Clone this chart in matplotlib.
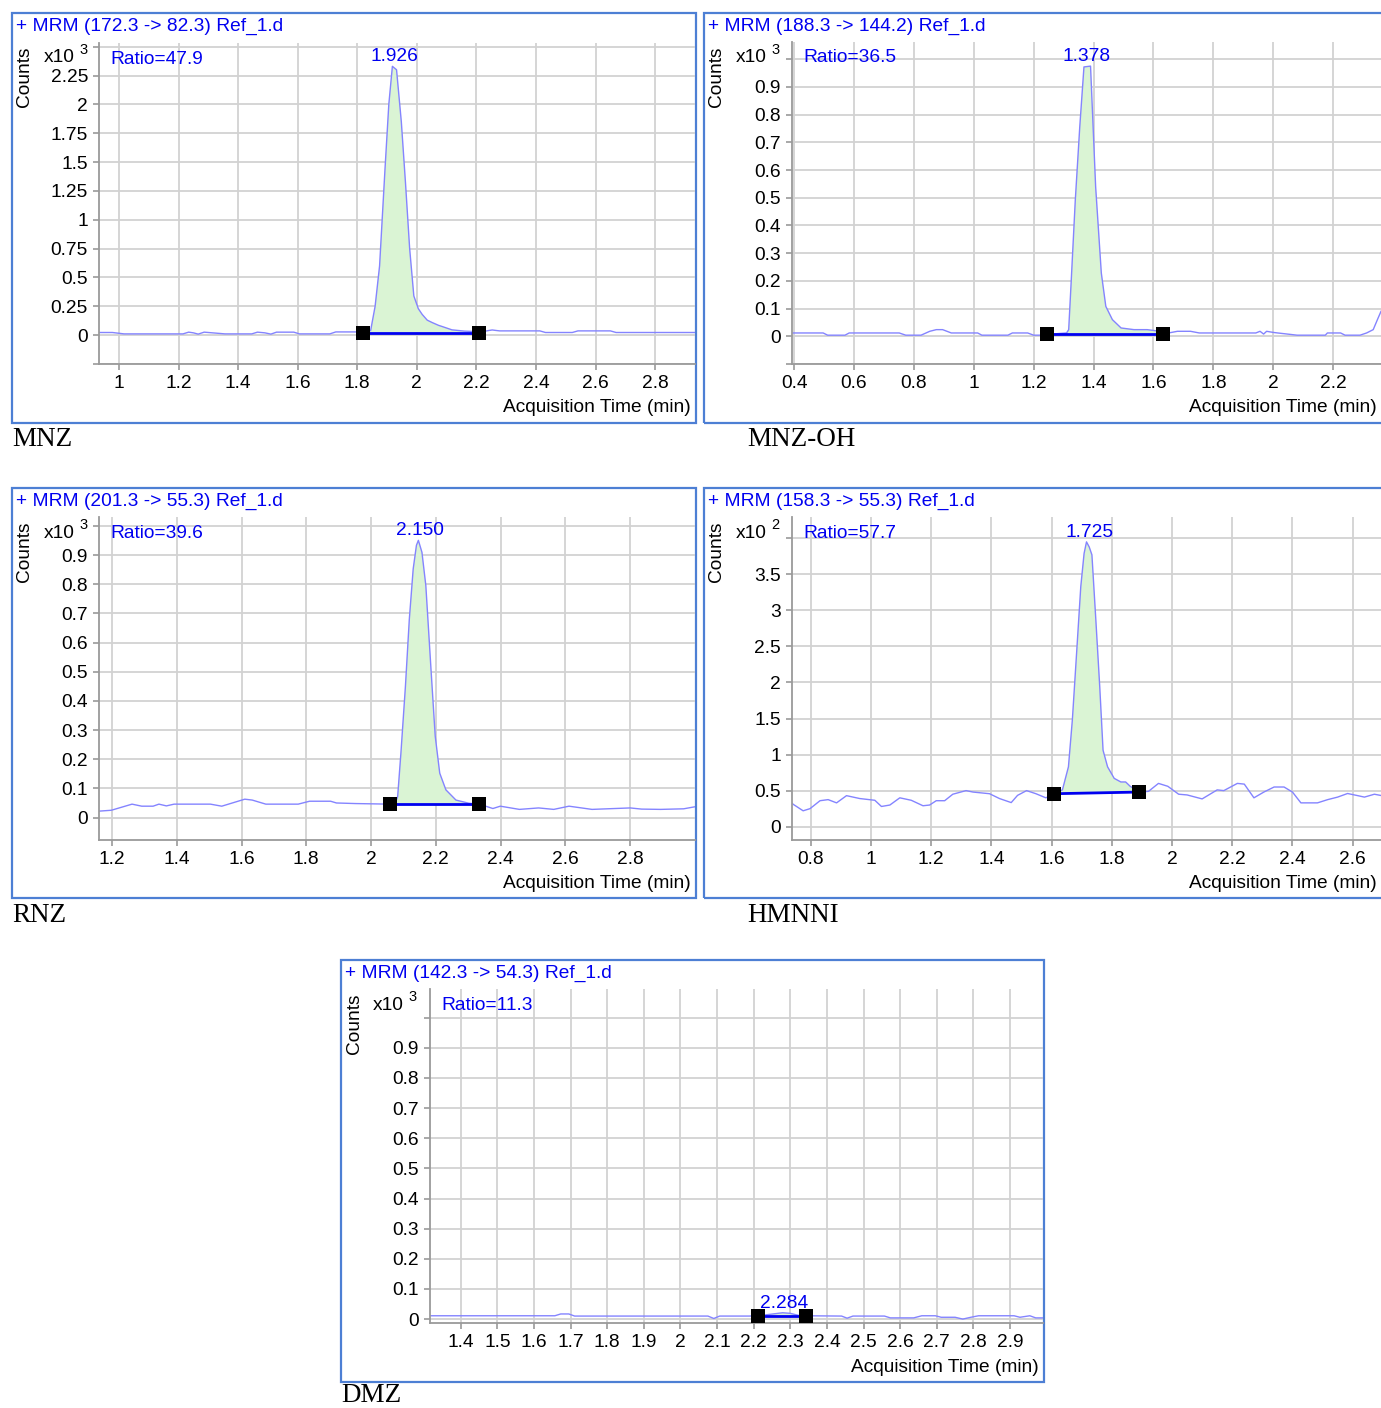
import numpy as np
import matplotlib.pyplot as plt
from matplotlib.patches import Rectangle

plt.rcParams['font.family'] = ['Liberation Sans', 'DejaVu Sans']

W, H = 1381, 1408

# compound names, MRM transitions, retention times and ion ratios
names = ['MNZ', 'MNZ-OH', 'RNZ', 'HMNNI', 'DMZ']
transitions = ['172.3 -> 82.3', '188.3 -> 144.2', '201.3 -> 55.3',
               '158.3 -> 55.3', '142.3 -> 54.3']
rts = [1.926, 1.378, 2.150, 1.725, 2.284]
ratios = [47.9, 36.5, 39.6, 57.7, 11.3]
exponents = [3, 3, 3, 2, 3]

# chromatograms: (time in min, counts in x10^exp)
mnz_trace = [
    (0.933, 0.023), (0.978, 0.023), (1.017, 0.011), (1.215, 0.011), (1.234, 0.026),
    (1.25, 0.02), (1.266, 0.009), (1.286, 0.026), (1.356, 0.011), (1.446, 0.011),
    (1.465, 0.026), (1.49, 0.02), (1.51, 0.009), (1.529, 0.026), (1.587, 0.026),
    (1.606, 0.011), (1.708, 0.011), (1.728, 0.028), (1.821, 0.028), (1.845, 0.04),
    (1.86, 0.25), (1.875, 0.6), (1.893, 1.43), (1.906, 2.0), (1.918, 2.33),
    (1.932, 2.30), (1.948, 1.85), (1.962, 1.32), (1.976, 0.75), (1.99, 0.34),
    (2.005, 0.23), (2.018, 0.18), (2.035, 0.13), (2.051, 0.11), (2.073, 0.085),
    (2.085, 0.075), (2.118, 0.046), (2.16, 0.035), (2.208, 0.03), (2.23, 0.035),
    (2.253, 0.045), (2.268, 0.04), (2.278, 0.037), (2.413, 0.037), (2.432, 0.023),
    (2.522, 0.023), (2.541, 0.037), (2.65, 0.037), (2.669, 0.023), (2.934, 0.023),
]
mnzoh_trace = [
    (0.39, 0.012), (0.497, 0.012), (0.512, 0.004), (0.57, 0.004), (0.584, 0.012),
    (0.751, 0.012), (0.773, 0.004), (0.824, 0.004), (0.853, 0.018), (0.875, 0.024),
    (0.896, 0.024), (0.925, 0.012), (1.013, 0.012), (1.027, 0.004), (1.114, 0.004),
    (1.129, 0.012), (1.18, 0.012), (1.2, 0.004), (1.245, 0.004), (1.26, 0.008),
    (1.31, 0.012), (1.317, 0.024), (1.325, 0.19), (1.339, 0.49), (1.354, 0.756),
    (1.368, 0.972), (1.39, 0.975), (1.407, 0.54), (1.426, 0.228), (1.441, 0.108),
    (1.463, 0.06), (1.492, 0.03), (1.535, 0.024), (1.579, 0.024), (1.622, 0.018),
    (1.651, 0.012), (1.68, 0.018), (1.724, 0.018), (1.753, 0.012), (1.942, 0.012),
    (1.956, 0.018), (1.968, 0.008), (1.978, 0.018), (2.0, 0.014), (2.015, 0.012),
    (2.08, 0.004), (2.174, 0.004), (2.181, 0.012), (2.225, 0.012), (2.24, 0.004),
    (2.29, 0.004), (2.312, 0.012), (2.334, 0.024), (2.348, 0.06), (2.36, 0.09),
]
rnz_trace = [
    (1.16, 0.022), (1.198, 0.025), (1.262, 0.046), (1.292, 0.039), (1.327, 0.039),
    (1.345, 0.046), (1.368, 0.04), (1.392, 0.046), (1.504, 0.046), (1.539, 0.039),
    (1.61, 0.063), (1.633, 0.06), (1.675, 0.046), (1.775, 0.046), (1.81, 0.056),
    (1.875, 0.056), (1.893, 0.05), (1.952, 0.048), (2.058, 0.046), (2.075, 0.05),
    (2.082, 0.072), (2.092, 0.22), (2.106, 0.45), (2.118, 0.68), (2.13, 0.853),
    (2.14, 0.934), (2.146, 0.951), (2.157, 0.91), (2.169, 0.796), (2.185, 0.508),
    (2.198, 0.279), (2.212, 0.152), (2.231, 0.095), (2.262, 0.06), (2.302, 0.049),
    (2.334, 0.046), (2.376, 0.031), (2.399, 0.039), (2.458, 0.028), (2.517, 0.033),
    (2.564, 0.028), (2.611, 0.039), (2.682, 0.028), (2.8, 0.033), (2.835, 0.029),
    (2.894, 0.028), (2.965, 0.03), (3.0, 0.037),
]
hmnni_trace = [
    (0.737, 0.33), (0.742, 0.31), (0.775, 0.22), (0.798, 0.25), (0.831, 0.36),
    (0.858, 0.375), (0.886, 0.33), (0.919, 0.43), (0.963, 0.39), (1.013, 0.366),
    (1.035, 0.28), (1.063, 0.30), (1.096, 0.40), (1.134, 0.366), (1.173, 0.29),
    (1.195, 0.30), (1.217, 0.36), (1.245, 0.36), (1.272, 0.45), (1.316, 0.50),
    (1.339, 0.48), (1.394, 0.457), (1.427, 0.39), (1.466, 0.334), (1.487, 0.434),
    (1.517, 0.50), (1.548, 0.457), (1.581, 0.40), (1.609, 0.457), (1.636, 0.51),
    (1.656, 0.83), (1.669, 1.48), (1.683, 2.40), (1.697, 3.33), (1.708, 3.79),
    (1.716, 3.95), (1.725, 3.88), (1.734, 3.77), (1.747, 2.87), (1.76, 1.94),
    (1.771, 1.06), (1.786, 0.83), (1.808, 0.67), (1.83, 0.62), (1.846, 0.62),
    (1.861, 0.56), (1.892, 0.48), (1.922, 0.49), (1.955, 0.60), (1.986, 0.56),
    (2.022, 0.45), (2.05, 0.44), (2.10, 0.385), (2.15, 0.51), (2.172, 0.50),
    (2.217, 0.60), (2.24, 0.59), (2.272, 0.40), (2.305, 0.48), (2.339, 0.55),
    (2.372, 0.55), (2.40, 0.48), (2.428, 0.33), (2.483, 0.33), (2.517, 0.375),
    (2.55, 0.41), (2.583, 0.46), (2.617, 0.43), (2.639, 0.41), (2.672, 0.45),
    (2.697, 0.43),
]
dmz_trace = [
    (1.315, 0.011), (1.657, 0.011), (1.673, 0.017), (1.695, 0.017), (1.711, 0.01),
    (2.075, 0.01), (2.091, 0.002), (2.107, 0.01), (2.188, 0.01), (2.212, 0.011),
    (2.246, 0.016), (2.279, 0.021), (2.3, 0.019), (2.327, 0.011), (2.343, 0.011),
    (2.44, 0.01), (2.455, 0.003), (2.471, 0.01), (2.557, 0.01), (2.573, 0.004),
    (2.637, 0.004), (2.659, 0.011), (2.696, 0.011), (2.712, 0.006), (2.75, 0.006),
    (2.771, 0.0), (2.793, 0.006), (2.814, 0.011), (2.911, 0.011), (2.927, 0.006),
    (2.954, 0.011), (2.97, 0.004), (2.996, 0.004),
]
traces = [mnz_trace, mnzoh_trace, rnz_trace, hmnni_trace, dmz_trace]

# integration start / end points
limits = [
    [(1.821, 0.022), (2.208, 0.022)],
    [(1.243, 0.01), (1.632, 0.01)],
    [(2.058, 0.046), (2.334, 0.046)],
    [(1.609, 0.457), (1.89, 0.48)],
    [(2.212, 0.011), (2.343, 0.011)],
]

# tick values
xticks = [
    [1, 1.2, 1.4, 1.6, 1.8, 2, 2.2, 2.4, 2.6, 2.8],
    [0.4, 0.6, 0.8, 1, 1.2, 1.4, 1.6, 1.8, 2, 2.2],
    [1.2, 1.4, 1.6, 1.8, 2, 2.2, 2.4, 2.6, 2.8],
    [0.8, 1, 1.2, 1.4, 1.6, 1.8, 2, 2.2, 2.4, 2.6],
    [1.4, 1.5, 1.6, 1.7, 1.8, 1.9, 2, 2.1, 2.2, 2.3, 2.4, 2.5, 2.6, 2.7, 2.8, 2.9],
]
yticks = [
    [0, 0.25, 0.5, 0.75, 1, 1.25, 1.5, 1.75, 2, 2.25],
    [0, 0.1, 0.2, 0.3, 0.4, 0.5, 0.6, 0.7, 0.8, 0.9],
    [0, 0.1, 0.2, 0.3, 0.4, 0.5, 0.6, 0.7, 0.8, 0.9],
    [0, 0.5, 1, 1.5, 2, 2.5, 3, 3.5],
    [0, 0.1, 0.2, 0.3, 0.4, 0.5, 0.6, 0.7, 0.8, 0.9],
]
# gridlines without a label
ygrid_extra = [[-0.25, 2.5], [-0.1, 1.0], [1.0], [4.0], [1.0]]

# layout in pixels: frame (l, t, r, b), axes (l, t, r, b), limits
layout = [
    dict(frame=(12, 13, 696, 423), axes=(99, 43, 695, 364),
         xlim=(0.933, 2.934), ylim=(-0.25, 2.532), name_xy=(12, 440)),
    dict(frame=(704, 13, 1395, 423), axes=(792, 42, 1381, 364),
         xlim=(0.393, 2.36), ylim=(-0.1, 1.062), name_xy=(747, 440)),
    dict(frame=(12, 488, 696, 898), axes=(99, 517, 695, 840),
         xlim=(1.16, 3.0), ylim=(-0.077, 1.031), name_xy=(12, 915)),
    dict(frame=(704, 488, 1395, 898), axes=(792, 517, 1381, 840),
         xlim=(0.738, 2.694), ylim=(-0.185, 4.295), name_xy=(747, 915)),
    dict(frame=(341, 960, 1044, 1382), axes=(430, 989, 1043, 1323),
         xlim=(1.316, 2.99), ylim=(-0.013, 1.095), name_xy=(341, 1395)),
]

BLUE = '#0000f0'
TRACE = '#8484ff'
FILL = '#daf4d4'
GRID = '#d2d2d2'
AXC = '#9a9a9a'
FRAME = '#4d7fd4'
FS = 13.8

fig = plt.figure(figsize=(W / 100, H / 100), dpi=100)


def ftext(x, y, s, **kw):
    return fig.text(x / W, 1 - y / H, s, **kw)


for i in range(5):
    lay = layout[i]
    fl, ft, fr, fb = lay['frame']
    fig.add_artist(Rectangle((fl / W, 1 - fb / H), (fr - fl) / W, (fb - ft) / H,
                             transform=fig.transFigure, fill=False,
                             ec=FRAME, lw=1.6, zorder=0))
    al, at, ar, ab = lay['axes']
    ax = fig.add_axes([al / W, 1 - ab / H, (ar - al) / W, (ab - at) / H])
    ax.patch.set_alpha(0)

    t, y = np.array(traces[i]).T
    (t1, b1), (t2, b2) = limits[i]

    # integrated area
    inside = (t > t1) & (t < t2)
    px = np.concatenate([[t1], t[inside], [t2]])
    py = np.concatenate([[b1], y[inside], [b2]])
    ax.fill(px, py, color=FILL, lw=0, zorder=1)
    ax.plot(t, y, color=TRACE, lw=1.0, zorder=2)
    ax.plot([t1, t2], [b1, b2], color=BLUE, lw=2.0, zorder=3)
    ax.plot([t1, t2], [b1, b2], ls='none', marker='s', ms=10, mew=0,
            color='black', zorder=4, clip_on=False)

    # retention time label above the apex
    ax.annotate(f'{rts[i]:.3f}', xy=(rts[i], py.max()), xytext=(0, 3.5),
                textcoords='offset points', ha='center', va='baseline',
                color=BLUE, fontsize=FS)

    ax.set_xlim(*lay['xlim'])
    ax.set_ylim(*lay['ylim'])
    ax.set_xticks(xticks[i])
    ax.set_xticklabels([f'{v:g}' for v in xticks[i]])
    yt = sorted(yticks[i] + ygrid_extra[i])
    ax.set_yticks(yt)
    ax.set_yticklabels([f'{v:g}' if v in yticks[i] else '' for v in yt])
    ax.grid(True, color=GRID, lw=1.3, zorder=0)
    ax.set_axisbelow(True)
    for s in ['top', 'right']:
        ax.spines[s].set_visible(False)
    for s in ['left', 'bottom']:
        ax.spines[s].set_color(AXC)
        ax.spines[s].set_linewidth(1.3)
    ax.tick_params(direction='out', length=4, width=1.2, color=AXC,
                   labelsize=FS, pad=4, labelcolor='black')

    # panel texts
    ftext(fl + 4, ft + 13, f'+ MRM ({transitions[i]}) Ref_1.d',
          color=BLUE, fontsize=FS, ha='left', va='center')
    ftext(fl + 13, ft + 64, 'Counts', rotation=90, fontsize=FS,
          ha='center', va='center')
    ftext(fl + 32, ft + 45, 'x10', fontsize=FS, ha='left', va='center')
    ftext(fl + 67, ft + 37, str(exponents[i]), fontsize=10.5,
          ha='left', va='center')
    ftext(al + 11, at + 16, f'Ratio={ratios[i]}', color=BLUE, fontsize=FS,
          ha='left', va='center')
    ftext(min(ar, 1386) - 4, ab + 44, 'Acquisition Time (min)', fontsize=FS,
          ha='right', va='center')
    nx, ny = lay['name_xy']
    ftext(nx, ny, names[i], family='Liberation Serif', fontsize=19.5,
          ha='left', va='center')

fig.savefig('out.png', dpi=100)
